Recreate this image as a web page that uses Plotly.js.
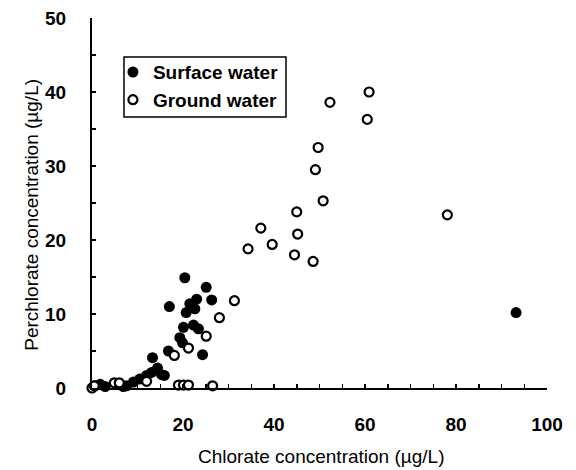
<!DOCTYPE html>
<html>
<head>
<meta charset="utf-8">
<script src="https://cdn.plot.ly/plotly-3.0.1.min.js"></script>
<style>html,body{margin:0;padding:0;background:#fff;}#chart{width:576px;height:470px;}</style>
</head>
<body>
<div id="chart"></div>
<script>
// Surface water samples (chlorate µg/L, perchlorate µg/L)
const surfaceX = [0.7, 1.8, 2.9, 6.9, 7.6, 9.1, 10.5, 12.0, 13.1, 14.4, 15.3, 15.9, 13.3, 16.8, 17.0, 19.3, 19.9, 20.1, 20.4, 20.7, 21.5, 22.3, 22.6, 23.0, 23.4, 24.3, 25.1, 26.3, 93.2];
const surfaceY = [0.3, 0.5, 0.2, 0.2, 0.3, 0.8, 1.2, 1.7, 2.1, 2.7, 1.8, 1.7, 4.1, 5.0, 11.0, 6.8, 6.1, 8.2, 14.9, 10.2, 11.4, 8.5, 10.7, 12.0, 8.0, 4.5, 13.6, 11.9, 10.2];
// Ground water samples
const groundX = [0.0, 0.5, 4.9, 6.0, 12.0, 18.1, 19.0, 20.1, 21.2, 21.2, 25.1, 26.5, 28.0, 31.3, 34.3, 37.1, 39.6, 44.5, 45.0, 45.2, 48.6, 49.1, 49.7, 50.8, 52.3, 60.5, 60.9, 78.1];
const groundY = [0.0, 0.3, 0.7, 0.7, 0.9, 4.4, 0.4, 0.4, 0.4, 5.4, 7.0, 0.3, 9.5, 11.8, 18.8, 21.6, 19.4, 18.0, 23.8, 20.8, 17.1, 29.5, 32.5, 25.3, 38.6, 36.3, 40.0, 23.4];

const seriesNames = ["Surface water", "Ground water"];
const xTitle = "Chlorate concentration (\u00b5g/L)";
const yTitle = "Perchlorate concentration (\u00b5g/L)";

const FONT = "Liberation Sans, Arial, Helvetica, sans-serif";

const traces = [
  {
    x: surfaceX, y: surfaceY, type: "scatter", mode: "markers", name: seriesNames[0],
    marker: {symbol: "circle", size: 11, color: "#000"},
    cliponaxis: false
  },
  {
    x: groundX, y: groundY, type: "scatter", mode: "markers", name: seriesNames[1],
    marker: {symbol: "circle", size: 9, color: "#fff", line: {color: "#000", width: 2.2}},
    cliponaxis: false
  }
];

const layout = {
  width: 576, height: 470,
  margin: {l: 92, r: 29, t: 18, b: 82},
  paper_bgcolor: "#fff", plot_bgcolor: "#fff",
  font: {family: FONT, color: "#000"},
  showlegend: true,
  legend: {
    x: 0.046, y: 0.905, xanchor: "left", yanchor: "top",
    bgcolor: "rgba(0,0,0,0)", borderwidth: 0,
    font: {family: FONT, size: 19, color: "#000", weight: "bold"},
    itemwidth: 30, tracegroupgap: 0
  },
  shapes: [
    {type: "rect", xref: "paper", yref: "paper", x0: 0.0703, x1: 0.4264, y0: 0.7324, y1: 0.8946,
     line: {color: "#000", width: 1.5}, fillcolor: "rgba(0,0,0,0)", layer: "above"}
  ],
  annotations: [
    {text: xTitle, xref: "paper", yref: "paper", x: 0.503, y: -0.186, xanchor: "center", yanchor: "middle",
     showarrow: false, font: {family: FONT, size: 19, color: "#000"}},
    {text: yTitle, xref: "paper", yref: "paper", x: -0.132, y: 0.468, xanchor: "center", yanchor: "middle",
     textangle: -90, showarrow: false, font: {family: FONT, size: 19, color: "#000"}}
  ],
  xaxis: {
    range: [0, 100], dtick: 20, tick0: 0,
    showgrid: false, zeroline: false,
    showline: true, linecolor: "#000", linewidth: 2,
    ticks: "inside", ticklen: 4, tickwidth: 1.5, tickcolor: "#000",
    minor: {dtick: 5, ticks: "inside", ticklen: 4, tickwidth: 1.5, tickcolor: "#000", showgrid: false},
    tickfont: {family: FONT, size: 19, weight: "bold"},
    ticklabelstandoff: 18
  },
  yaxis: {
    range: [0, 50], dtick: 10, tick0: 0,
    showgrid: false, zeroline: false,
    showline: true, linecolor: "#000", linewidth: 2,
    ticks: "inside", ticklen: 4, tickwidth: 1.5, tickcolor: "#000",
    minor: {dtick: 5, ticks: "inside", ticklen: 4, tickwidth: 1.5, tickcolor: "#000", showgrid: false},
    tickfont: {family: FONT, size: 19, weight: "bold"},
    ticklabelstandoff: 20
  }
};

Plotly.newPlot("chart", traces, layout, {displayModeBar: false, staticPlot: true});
</script>
</body>
</html>
